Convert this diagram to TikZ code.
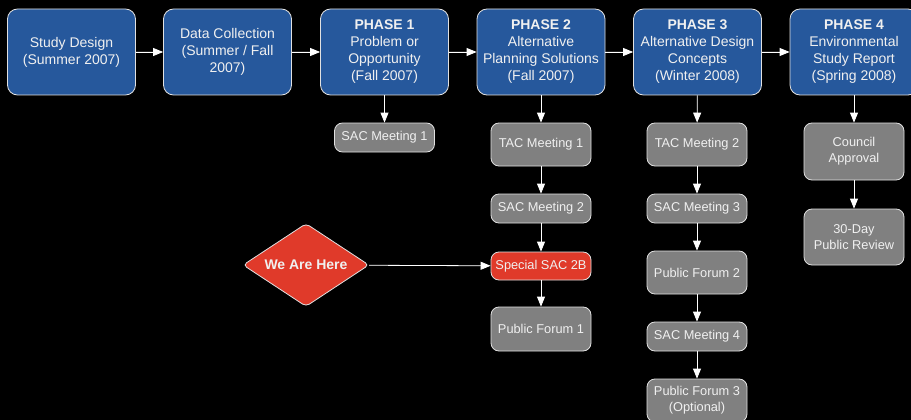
\documentclass[tikz,border=0pt]{standalone}
\usepackage{fontspec}
\setmainfont{Liberation Sans}
\usetikzlibrary{shapes.geometric,arrows.meta}
\definecolor{bluebox}{RGB}{38,88,156}
\definecolor{graybox}{RGB}{128,128,128}
\definecolor{redbox}{RGB}{224,58,42}
\definecolor{edgecol}{RGB}{225,225,225}
\definecolor{txt}{RGB}{240,240,240}
\begin{document}
\begin{tikzpicture}[x=1pt,y=-1pt,
  phase/.style={draw=edgecol,line width=0.8pt,fill=bluebox,rounded corners=10pt,minimum width=128pt,minimum height=86pt,inner sep=0pt,align=center,text=txt,font=\fontsize{14}{17}\selectfont},
  sub/.style={draw=edgecol,line width=0.8pt,fill=graybox,rounded corners=8pt,minimum width=100pt,inner sep=0pt,align=center,text=txt,font=\fontsize{12.8}{16}\selectfont},
  arr/.style={draw=white,line width=0.8pt,-{Triangle[length=10pt,width=8pt]},fill=white}
]
\fill[black] (0,0) rectangle (911,420);
\clip (0,0) rectangle (911,420);
\useasboundingbox (0,0) rectangle (911,420);
% top row
\node[phase] (sd) at (71.5,52) {Study Design\\(Summer 2007)};
\node[phase] (dc) at (227.5,52) {Data Collection\\(Summer / Fall\\2007)};
\node[phase] (p1) at (384.5,52) {\textbf{PHASE 1}\\Problem or\\Opportunity\\(Fall 2007)};
\node[phase] (p2) at (541,52) {\textbf{PHASE 2}\\Alternative\\Planning Solutions\\(Fall 2007)};
\node[phase] (p3) at (697.5,52) {\textbf{PHASE 3}\\Alternative Design\\Concepts\\(Winter 2008)};
\node[phase] (p4) at (854,52) {\textbf{PHASE 4}\\Environmental\\Study Report\\(Spring 2008)};
\draw[arr] (sd) -- (dc);
\draw[arr] (dc) -- (p1);
\draw[arr] (p1) -- (p2);
\draw[arr] (p2) -- (p3);
\draw[arr] (p3) -- (p4);
% phase 1
\node[sub,minimum height=29pt] (sac1) at (384.5,137.5) {SAC Meeting 1};
\draw[arr] (p1) -- (sac1);
% phase 2
\node[sub,minimum height=43pt] (tac1) at (541,144.5) {TAC Meeting 1};
\node[sub,minimum height=29pt] (sac2) at (541,208.5) {SAC Meeting 2};
\node[sub,minimum height=28pt,fill=redbox] (ssac) at (541,266) {Special SAC 2B};
\node[sub,minimum height=44pt] (pf1) at (541,329) {Public Forum 1};
\draw[arr] (p2) -- (tac1);
\draw[arr] (tac1) -- (sac2);
\draw[arr] (sac2) -- (ssac);
\draw[arr] (ssac) -- (pf1);
% we are here
\node[diamond,aspect=1.5,draw=edgecol,line width=0.8pt,fill=redbox,rounded corners=4pt,minimum width=126pt,minimum height=83pt,inner sep=0pt,text=txt,font=\fontsize{14}{17}\selectfont\bfseries] (here) at (306,265) {We Are Here};
\draw[arr] (here) -- (ssac);
% phase 3
\node[sub,minimum height=43pt] (tac2) at (697,144.5) {TAC Meeting 2};
\node[sub,minimum height=29pt] (sac3) at (697,208.5) {SAC Meeting 3};
\node[sub,minimum height=43pt] (pf2) at (697,272.5) {Public Forum 2};
\node[sub,minimum height=29pt] (sac4) at (697,336.5) {SAC Meeting 4};
\node[sub,minimum height=43pt] (pf3) at (697,400.5) {Public Forum 3\\(Optional)};
\draw[arr] (p3) -- (tac2);
\draw[arr] (tac2) -- (sac3);
\draw[arr] (sac3) -- (pf2);
\draw[arr] (pf2) -- (sac4);
\draw[arr] (sac4) -- (pf3);
% phase 4
\node[sub,minimum height=57pt] (ca) at (854,151.5) {Council\\Approval};
\node[sub,minimum height=56pt] (pr) at (854,237) {30-Day\\Public Review};
\draw[arr] (p4) -- (ca);
\draw[arr] (ca) -- (pr);
\end{tikzpicture}
\end{document}
